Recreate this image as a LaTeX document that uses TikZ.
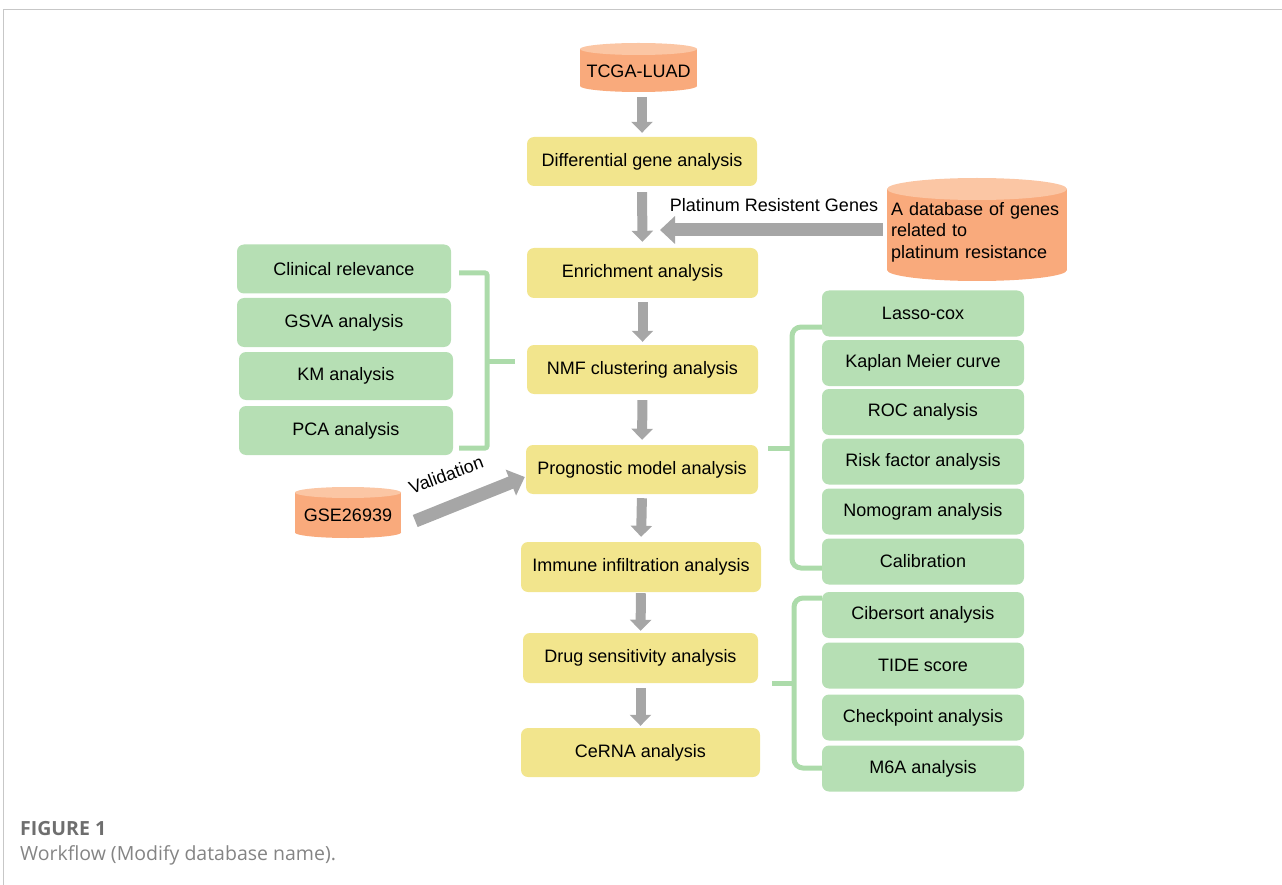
\documentclass[tikz,border=0pt]{standalone}
\usepackage{fontspec}
\setmainfont{Liberation Sans}
\newfontfamily\capfont{Open Sans}
\usetikzlibrary{arrows.meta,calc}
\definecolor{ycol}{RGB}{242,229,141}
\definecolor{gcol}{RGB}{182,223,180}
\definecolor{bcol}{RGB}{172,219,170}
\definecolor{ocol}{RGB}{249,170,124}
\definecolor{otop}{RGB}{251,198,164}
\definecolor{acol}{RGB}{166,166,166}
\definecolor{capgray}{RGB}{110,110,110}
\begin{document}
\begin{tikzpicture}[x=1pt,y=-1pt,
  txt/.style={font=\fontsize{18}{21.5}\selectfont, text=black},
  ybox/.style={txt, rectangle, rounded corners=7pt, fill=ycol, draw=none, inner sep=0pt},
  gbox/.style={txt, rectangle, rounded corners=7pt, fill=gcol, draw=none, inner sep=0pt, minimum width=202, minimum height=46},
  lbox/.style={txt, rectangle, rounded corners=7pt, fill=gcol, draw=none, inner sep=0pt, minimum width=214, minimum height=49},
  varr/.style={draw=acol, line width=10pt, -{Triangle[width=21pt,length=11pt]}},
  harr/.style={draw=acol, line width=13pt, -{Triangle[width=27pt,length=15pt]}},
  brk/.style={draw=bcol, line width=5pt},
]
\useasboundingbox (0,0) rectangle (1282,885);
% frame
\draw[draw=black!22, line width=1.5pt] (3.5,885) -- (3.5,9.5) -- (1282,9.5);

% cylinders
\fill[ocol] (580,49) rectangle (697,86);
\fill[ocol] (638.5,86) ellipse [x radius=58.5pt, y radius=6pt];
\fill[otop] (638.5,49) ellipse [x radius=58.5pt, y radius=6pt];
\node[txt, minimum width=117, minimum height=42, inner sep=0pt] (tcga) at (638.5,71) {TCGA-LUAD};

\fill[ocol] (887,189) rectangle (1067,270);
\fill[ocol] (977,270) ellipse [x radius=90pt, y radius=11pt];
\fill[otop] (977,189) ellipse [x radius=90pt, y radius=11pt];
\node[txt, text width=172, align=left, inner xsep=4pt, inner ysep=0pt] (db) at (977,232) {A database of genes\\related to\\platinum resistance};

\fill[ocol] (295,492.5) rectangle (401,532.5);
\fill[ocol] (348,532.5) ellipse [x radius=53pt, y radius=5.5pt];
\fill[otop] (348,492.5) ellipse [x radius=53pt, y radius=5.5pt];
\node[txt, minimum width=106, minimum height=46, inner sep=0pt] (gse) at (348,515) {GSE26939};

% main column
\node[ybox, minimum width=230, minimum height=49] (diff) at (642,161.5) {Differential gene analysis};
\node[ybox, minimum width=231, minimum height=50] (enr)  at (642.5,273) {Enrichment analysis};
\node[ybox, minimum width=231, minimum height=49] (nmf)  at (642.5,369.5) {NMF clustering analysis};
\node[ybox, minimum width=232, minimum height=49] (prog) at (642,469.5) {Prognostic model analysis};
\node[ybox, minimum width=240, minimum height=50] (imm)  at (641,567) {Immune infiltration analysis};
\node[ybox, minimum width=235, minimum height=50] (drug) at (640.5,658) {Drug sensitivity analysis};
\node[ybox, minimum width=239, minimum height=49] (cer)  at (640.5,752.5) {CeRNA analysis};

% vertical arrows
\draw[varr, shorten <=5pt, shorten >=4pt] (tcga.south -| diff.north) -- (diff.north);
\draw[varr, shorten <=6pt, shorten >=6pt] (diff.south) -- (enr.north);
\draw[varr, shorten <=4pt, shorten >=3pt] (enr.south) -- (nmf.north);
\draw[varr, shorten <=6pt, shorten >=5pt] (nmf.south) -- (prog.north);
\draw[varr, shorten <=4pt, shorten >=5pt] (prog.south) -- (imm.north);
\draw[varr, shorten <=1pt, shorten >=2pt] (imm.south) -- (drug.north);
\draw[varr, shorten <=5pt, shorten >=2pt] (drug.south) -- (cer.north);

% platinum arrow
\coordinate (pr) at (660,230);
\draw[harr, shorten <=4pt] (db.west |- pr) -- (pr);
\node[txt] (plab) at (774,205) {Platinum Resistent Genes};

% validation arrow
\draw[harr, line width=13pt] ([shift={(14,6)}]gse.east) -- ([shift={(-1,7.5)}]prog.west);
\node[txt, rotate=20.5] (vlab) at (446,475) {Validation};

% left boxes
\node[lbox] (clin) at (344,269) {Clinical relevance};
\node[lbox] (gsva) at (344,322.5) {GSVA analysis};
\node[lbox, minimum height=48] (km)   at (346,376) {KM analysis};
\node[lbox] (pca)  at (346,430.5) {PCA analysis};
\draw[brk, rounded corners=2pt] ([xshift=8]clin.east |- 0,273) -| (487,448) -- ([xshift=6]pca.east |- 0,448);
\draw[brk, shorten >=12pt] (487,361) -- (nmf.west |- 0,361);

% right boxes 1
\node[gbox] (lasso) at (923,313.5) {Lasso-cox};
\node[gbox] (km2)   at (923,363) {Kaplan Meier curve};
\node[gbox] (roc)   at (923,412) {ROC analysis};
\node[gbox] (risk)  at (923,461.5) {Risk factor analysis};
\node[gbox] (nomo)  at (923,511.5) {Nomogram analysis};
\node[gbox] (cal)   at (923,561.5) {Calibration};
\draw[brk, rounded corners=9pt] (lasso.west |- 0,327) -- (792,327) -- (792,568) -- (cal.west |- 0,568);
\draw[brk, shorten <=10pt] (prog.east |- 0,448) -- (792,448);

% right boxes 2
\node[gbox] (cib)  at (923,615) {Cibersort analysis};
\node[gbox] (tide) at (923,665.5) {TIDE score};
\node[gbox] (chk)  at (923,717.5) {Checkpoint analysis};
\node[gbox] (m6a)  at (923,768.5) {M6A analysis};
\draw[brk, rounded corners=9pt] (cib.west |- 0,598) -- (794,598) -- (794,768) -- (m6a.west |- 0,768);
\draw[brk, shorten <=14pt] (drug.east |- 0,683) -- (794,683);

% caption
\node[anchor=west, inner sep=0pt, text=capgray, font=\capfont\bfseries\fontsize{19.5}{23}\selectfont] (fig) at (20,829) {FIGURE 1};
\node[anchor=west, inner sep=0pt, text=capgray!85, font=\capfont\fontsize{19.5}{23}\selectfont] (capt) at (20,855) {Workflow (Modify database name).};
\end{tikzpicture}
\end{document}
